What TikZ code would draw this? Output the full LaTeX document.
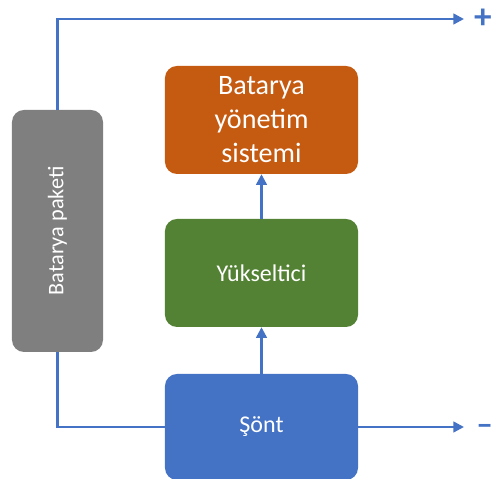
\documentclass[tikz,border=0pt]{standalone}
\usepackage{fontspec}
\usepackage{graphicx}
\setmainfont{Carlito}
\usetikzlibrary{arrows.meta,positioning}
\definecolor{bmsorange}{HTML}{C55A11}
\definecolor{boostgreen}{HTML}{548235}
\definecolor{shuntblue}{HTML}{4472C4}
\definecolor{packgray}{HTML}{7F7F7F}
\begin{document}
\begin{tikzpicture}[x=0.03cm,y=0.03cm,
    block/.style={rounded corners=0.36cm,text=white,minimum width=5.79cm,minimum height=3.24cm,align=center,inner sep=0pt},
    wire/.style={shuntblue,line width=2pt},
    tip/.style={-{Triangle[length=9pt,width=9pt]}}]
    \useasboundingbox (0,0) rectangle (491,479);
    \node[block,fill=packgray,minimum width=2.73cm,minimum height=7.26cm,font=\fontsize{19}{23}\selectfont] (pack) at (57.5,248) {\rotatebox{90}{Batarya paketi}};
    \node[block,fill=bmsorange,font=\fontsize{24}{29}\selectfont] (bms) at (261.5,359) {Batarya\\yönetim\\sistemi};
    \node[block,fill=boostgreen,font=\fontsize{20.5}{24}\selectfont] (boost) at (261.5,206) {Yükseltici};
    \node[block,fill=shuntblue,minimum height=3.18cm,font=\fontsize{20.5}{24}\selectfont] (shunt) at (261.5,52) {Şönt};
    \coordinate (pend) at (464,460);
    \coordinate (nend) at (464,52);
    \node[shuntblue,anchor=west,font=\bfseries\fontsize{30}{34}\selectfont,inner sep=0pt] (plus) at (474,460) {+};
    \node[shuntblue,anchor=west,font=\fontsize{26}{30}\selectfont,inner sep=0pt] (minus) at (477,49) {\textbf{−}};
    % connectors
    \draw[wire,tip] (pack.north) |- (pend);
    \draw[wire] (pack.south) |- (shunt.west);
    \draw[wire,tip] (shunt.east) -- (nend);
    \draw[wire,tip] (shunt.north) -- (boost.south);
    \draw[wire,tip] (boost.north) -- (bms.south);
\end{tikzpicture}
\end{document}
